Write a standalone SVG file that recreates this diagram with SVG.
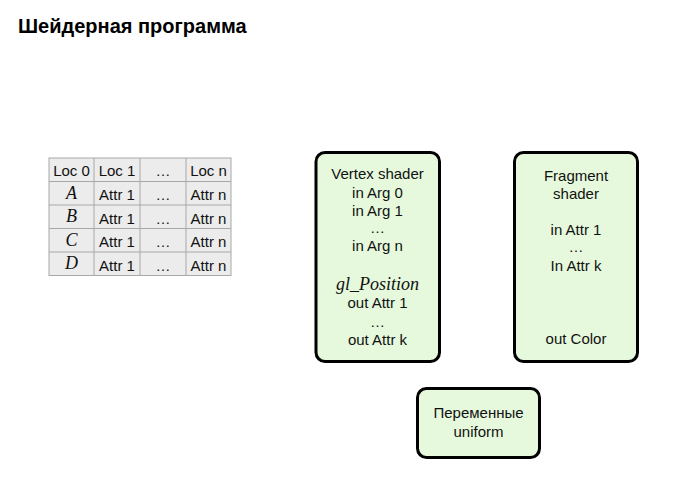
<svg xmlns="http://www.w3.org/2000/svg" width="674" height="502" viewBox="0 0 674 502">
<style>
.t{font-family:"Liberation Sans",Arial,sans-serif;font-size:15px;fill:#111;text-anchor:middle}
.c{font-family:"Liberation Sans",Arial,sans-serif;font-size:15px;fill:#111;text-anchor:middle}
.m{font-family:"Liberation Serif","Times New Roman",serif;font-style:italic;font-size:18px;fill:#111;text-anchor:middle}
.box{fill:#e6f9dc;stroke:#000;stroke-width:3}
.grid{stroke:#a8a8a8;stroke-width:1;fill:none}
</style>
<rect width="674" height="502" fill="#fff"/>
<text x="18" y="33" font-family="Liberation Sans,Arial,sans-serif" font-weight="bold" font-size="20" fill="#000">Шейдерная программа</text>
<g id="table">
<rect x="49" y="158" width="182" height="117.5" fill="#ececec"/>
<g class="grid">
<rect x="49" y="158" width="182" height="117.5"/>
<line x1="49" y1="181.5" x2="231" y2="181.5"/>
<line x1="49" y1="205" x2="231" y2="205"/>
<line x1="49" y1="228.5" x2="231" y2="228.5"/>
<line x1="49" y1="252" x2="231" y2="252"/>
<line x1="94" y1="158" x2="94" y2="275.5"/>
<line x1="140" y1="158" x2="140" y2="275.5"/>
<line x1="186" y1="158" x2="186" y2="275.5"/>
</g>
<text class="c" x="71.5" y="176">Loc 0</text>
<text class="c" x="117" y="176">Loc 1</text>
<text class="c" x="163" y="176">…</text>
<text class="c" x="208.5" y="176">Loc n</text>
<text class="m" x="71.5" y="199">A</text>
<text class="m" x="71.5" y="222">B</text>
<text class="m" x="71.5" y="246">C</text>
<text class="m" x="71.5" y="269">D</text>
<text class="c" x="117" y="200">Attr 1</text>
<text class="c" x="117" y="224">Attr 1</text>
<text class="c" x="117" y="247">Attr 1</text>
<text class="c" x="117" y="271">Attr 1</text>
<text class="c" x="163" y="200">…</text>
<text class="c" x="163" y="224">…</text>
<text class="c" x="163" y="247">…</text>
<text class="c" x="163" y="271">…</text>
<text class="c" x="208.5" y="200">Attr n</text>
<text class="c" x="208.5" y="224">Attr n</text>
<text class="c" x="208.5" y="247">Attr n</text>
<text class="c" x="208.5" y="271">Attr n</text>
</g>
<g id="vertex">
<rect class="box" x="316" y="152.5" width="123.5" height="209" rx="9"/>
<text class="t" x="377.5" y="179">Vertex shader</text>
<text class="t" x="377.5" y="198">in Arg 0</text>
<text class="t" x="377.5" y="216">in Arg 1</text>
<text class="t" x="377.5" y="233">…</text>
<text class="t" x="377.5" y="251">in Arg n</text>
<text class="m" x="377.5" y="290">gl_Position</text>
<text class="t" x="377.5" y="308">out Attr 1</text>
<text class="t" x="377.5" y="327">…</text>
<text class="t" x="377.5" y="345">out Attr k</text>
</g>
<g id="fragment">
<rect class="box" x="514.5" y="152.5" width="123" height="209" rx="9"/>
<text class="t" x="576" y="181">Fragment</text>
<text class="t" x="576" y="199">shader</text>
<text class="t" x="576" y="235">in Attr 1</text>
<text class="t" x="576" y="252">…</text>
<text class="t" x="576" y="271">In Attr k</text>
<text class="t" x="576" y="344">out Color</text>
</g>
<g id="uniform">
<rect class="box" x="417.5" y="388.5" width="122" height="69" rx="9"/>
<text class="t" x="478.5" y="418">Переменные</text>
<text class="t" x="478.5" y="437">uniform</text>
</g>
<g id="connectors"></g>
</svg>
